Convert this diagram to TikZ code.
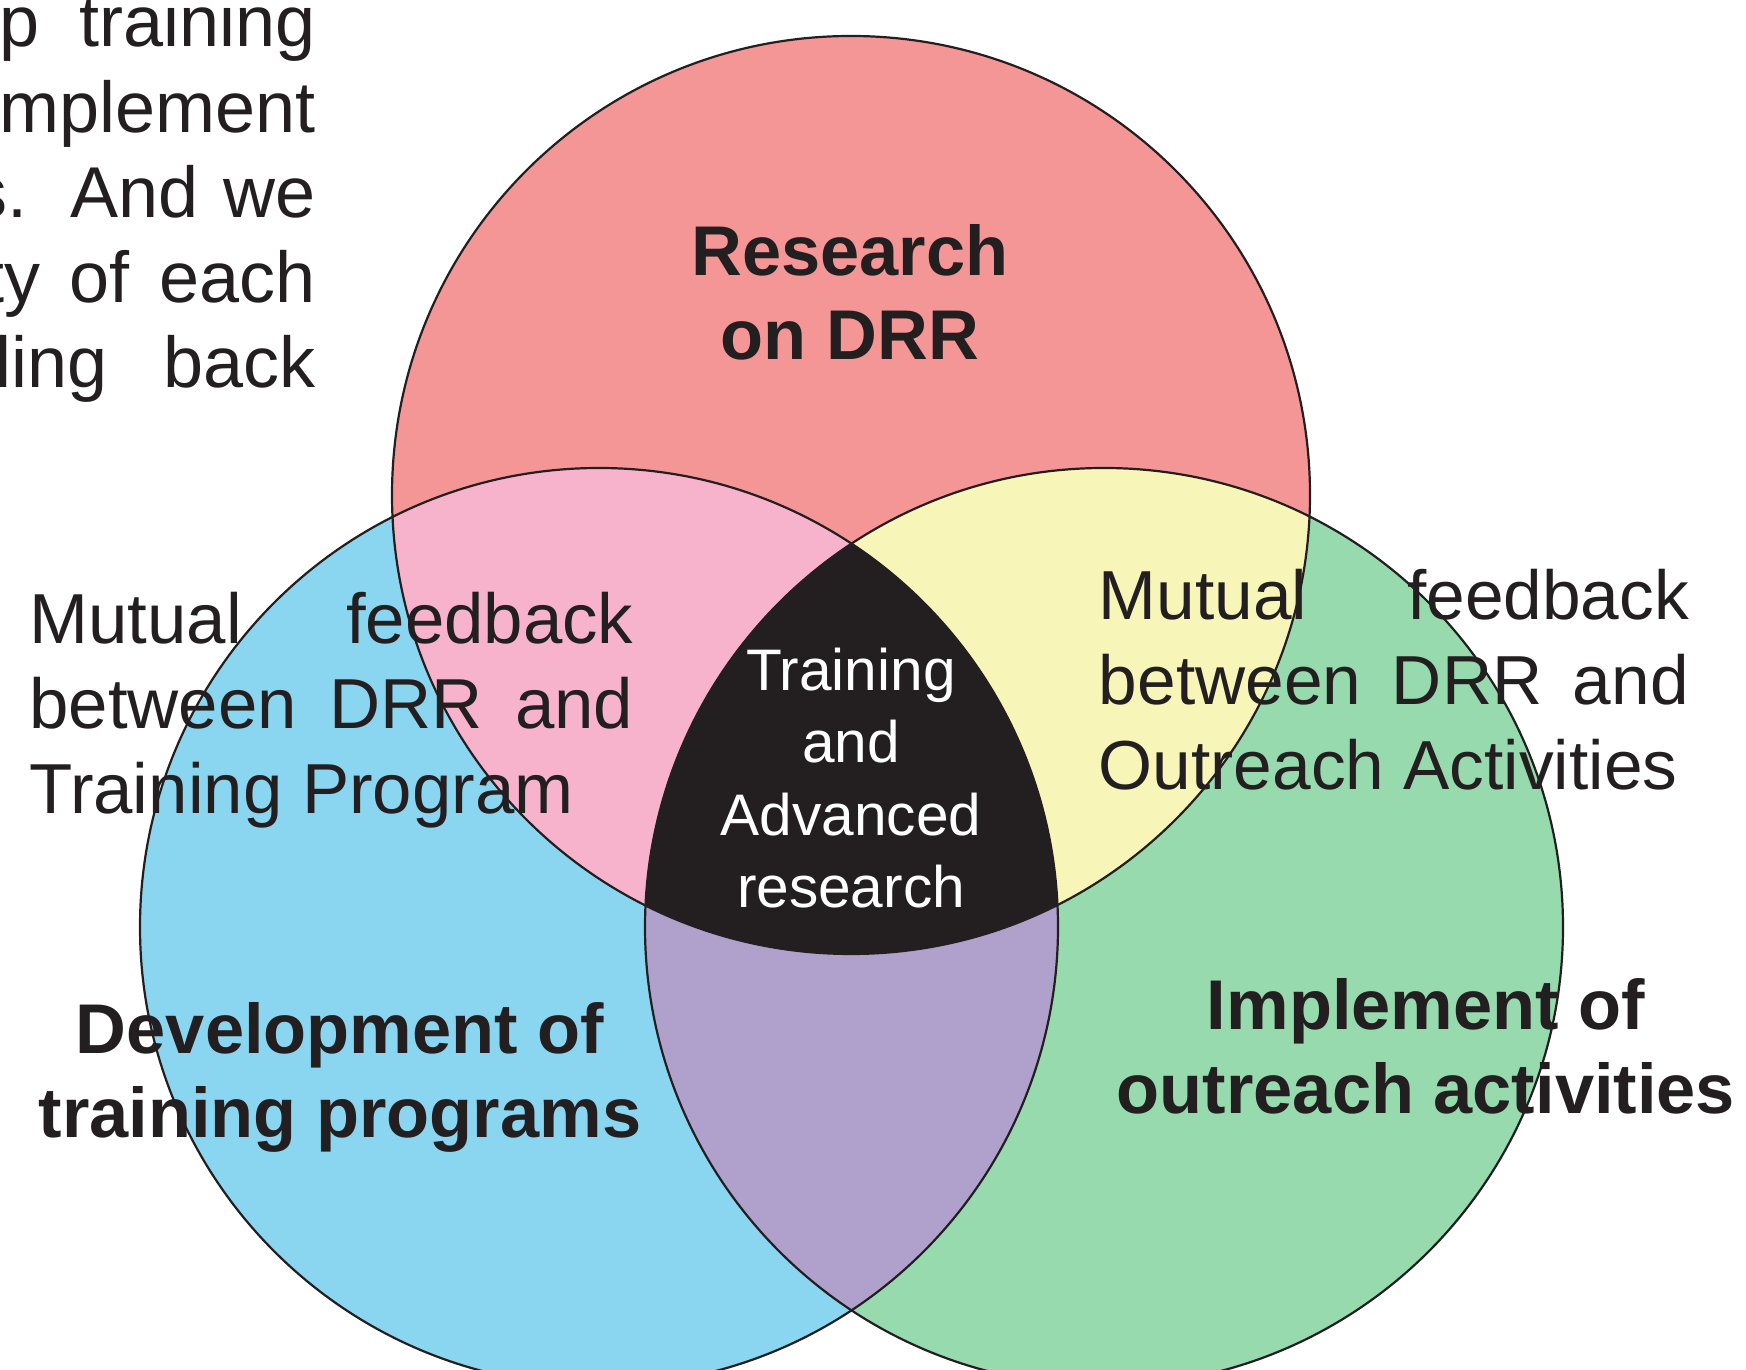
\documentclass[tikz,border=0pt]{standalone}
\usepackage{fontspec}
\setmainfont{Liberation Sans}
\usepackage{tikz}
\usetikzlibrary{positioning}
\definecolor{ink}{HTML}{231F20}
\definecolor{drrred}{HTML}{F59696}
\definecolor{trainblue}{HTML}{8AD6F0}
\definecolor{reachgreen}{HTML}{96DAAE}
\definecolor{pinkmix}{HTML}{F7B3CB}
\definecolor{yellowmix}{HTML}{F7F5B7}
\definecolor{purplemix}{HTML}{B0A1CC}
\newcommand{\vennr}{459}
\tikzset{
  ring/.style={draw=ink,line width=1.1pt},
  title/.style={font=\fontsize{35.2}{42}\selectfont\bfseries,text=ink,align=center,anchor=base,inner sep=0},
  note/.style={font=\fontsize{35}{42.5}\selectfont,text=ink,align=justify,anchor=base west,inner sep=0},
  core/.style={font=\fontsize{29.3}{36.2}\selectfont,text=white,align=center,anchor=base,inner sep=0},
  page/.style={font=\fontsize{36}{42.5}\selectfont,text=ink,anchor=base east,inner sep=0}
}

\begin{document}
\begin{tikzpicture}[x=0.5pt,y=0.5pt]
  \useasboundingbox (0,0) rectangle (1746,1370);
  \coordinate (research) at (851,875);
  \coordinate (training) at (599,443);
  \coordinate (outreach) at (1104,443);
  % circles and their overlaps
  \fill[drrred] (research) circle (\vennr);
  \fill[trainblue] (training) circle (\vennr);
  \fill[reachgreen] (outreach) circle (\vennr);
  \begin{scope}
    \clip (research) circle (\vennr);
    \fill[pinkmix] (training) circle (\vennr);
    \fill[yellowmix] (outreach) circle (\vennr);
  \end{scope}
  \begin{scope}
    \clip (training) circle (\vennr);
    \fill[purplemix] (outreach) circle (\vennr);
    \clip (outreach) circle (\vennr);
    \fill[ink] (research) circle (\vennr);
  \end{scope}
  \draw[ring] (research) circle (\vennr);
  \draw[ring] (training) circle (\vennr);
  \draw[ring] (outreach) circle (\vennr);
  % text of the page behind
  \node[page] (lineA) at (316,1323) {\makebox[158pt][s]{p training}};
  \node[page] (lineB) at (316,1237) {mplement};
  \node[page] (lineC) at (316,1152) {\makebox[172pt][s]{s. And we}};
  \node[page] (lineD) at (316,1067) {\makebox[165.75pt][s]{ty of each}};
  \node[page] (lineE) at (316,982) {\makebox[160.25pt][s]{ling back}};
  % labels (base = last line)
  \node[title] (drr) at (850,1010) {Research\\on DRR};
  \node[title] (devel) at (340,232) {Development of\\training programs};
  \node[title] (impl) at (1426,256.5) {Implement of\\outreach activities};
  \node[core] (centre) at (851,462.5) {Training\\and\\Advanced\\research};
  \node[note,font=\fontsize{35.4}{42.5}\selectfont,text width=302pt] (leftfb) at (29,726)
    {Mutual feedback between DRR and Training Program};
  \node[note,font=\fontsize{34.7}{42.5}\selectfont,text width=295pt] (rightfb) at (1098.5,750)
    {Mutual feedback between DRR and Outreach Activities};
\end{tikzpicture}
\end{document}
